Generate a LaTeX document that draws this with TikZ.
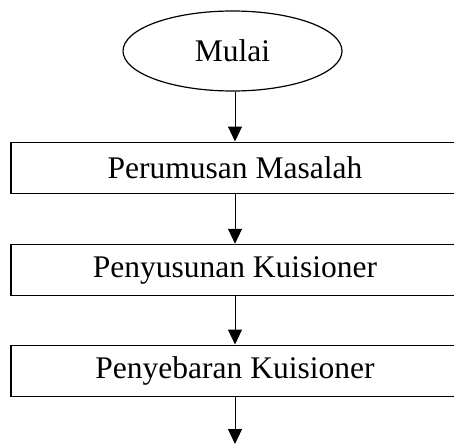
\documentclass[tikz,border=0pt]{standalone}
\usepackage{fontspec}
\setmainfont{Liberation Serif}
\usetikzlibrary{shapes.geometric,arrows.meta}
\begin{document}
\begin{tikzpicture}[x=1pt,y=-1pt,
  every node/.style={font=\fontsize{31.5}{36}\selectfont},
  procbox/.style={draw,line width=1.5pt,minimum width=448pt,minimum height=51pt,inner sep=0pt},
  startnode/.style={draw,ellipse,line width=1.2pt,minimum width=219pt,minimum height=80pt,inner sep=0pt},
  flow/.style={line width=1pt,-{Triangle[length=15pt,width=14pt]}}]
\clip (0,0) rectangle (454,444);
\useasboundingbox (0,0) rectangle (454,444);
\node[startnode] (e) at (232.5,51) {Mulai};
\node[procbox] (b1) at (235,167.75) {Perumusan Masalah};
\node[procbox] (b2) at (235,270) {Penyusunan Kuisioner};
\node[procbox] (b3) at (235,370.75) {Penyebaran Kuisioner};
\coordinate (end) at (235,444);
\draw[flow] (b1.north |- e.south) -- (b1.north);
\draw[flow] (b1.south) -- (b2.north);
\draw[flow] (b2.south) -- (b3.north);
\draw[flow] (b3.south) -- (end);
\end{tikzpicture}
\end{document}
